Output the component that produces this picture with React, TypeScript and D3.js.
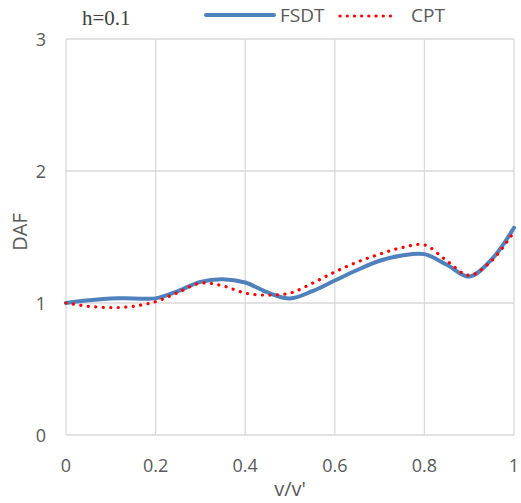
import React from "react";
import * as d3 from "d3";

const xValues = [0, 0.05, 0.1, 0.15, 0.2, 0.25, 0.3, 0.35, 0.4, 0.45, 0.5, 0.55, 0.6, 0.65, 0.7, 0.75, 0.8, 0.85, 0.9, 0.95, 1.0];
const fsdt = [1.0, 1.02, 1.035, 1.035, 1.035, 1.09, 1.16, 1.18, 1.155, 1.08, 1.035, 1.09, 1.17, 1.25, 1.32, 1.36, 1.37, 1.29, 1.2, 1.33, 1.57];
const cpt = [1.0, 0.975, 0.965, 0.975, 1.01, 1.08, 1.15, 1.13, 1.075, 1.06, 1.075, 1.15, 1.235, 1.31, 1.37, 1.42, 1.44, 1.32, 1.21, 1.32, 1.54];
const xTicks = [0, 0.2, 0.4, 0.6, 0.8, 1];
const yTicks = [0, 1, 2, 3];
const seriesNames = ["FSDT", "CPT"];
const annotation = "h=0.1";

const W = 521, H = 503;
const left = 66, right = 514, top = 39, bottom = 435;

export default function App() {
  const x = d3.scaleLinear().domain([0, 1]).range([left, right]);
  const y = d3.scaleLinear().domain([0, 3]).range([bottom, top]);
  const line = (vals: number[]) =>
    d3.line<number>()
      .x((_, i) => x(xValues[i]))
      .y((d) => y(d))
      .curve(d3.curveCatmullRom.alpha(0.5))(vals) || "";
  const tickFont = "'Open Sans', 'Noto Sans', sans-serif";
  return (
    <svg width={W} height={H} style={{ position: "absolute", left: 0, top: 0, background: "#fff" }}>
      {xTicks.map((t) => (
        <line key={"gx" + t} x1={x(t)} x2={x(t)} y1={top} y2={bottom} stroke="#d9d9d9" strokeWidth={1.3} />
      ))}
      {yTicks.map((t) => (
        <line key={"gy" + t} x1={left} x2={right} y1={y(t)} y2={y(t)} stroke="#d9d9d9" strokeWidth={1.3} />
      ))}
      {xTicks.map((t) => (
        <text key={"tx" + t} x={x(t)} y={472} textAnchor="middle" fontFamily={tickFont} fontSize={18} fill="#595959">{t}</text>
      ))}
      {yTicks.map((t) => (
        <text key={"ty" + t} x={46} y={y(t) + 7} textAnchor="end" fontFamily={tickFont} fontSize={18} fill="#595959">{t}</text>
      ))}
      <text x={(left + right) / 2} y={496} textAnchor="middle" fontFamily={tickFont} fontSize={20} fill="#595959">v/v'</text>
      <text transform={`translate(27,${(top + bottom) / 2 - 5}) rotate(-90)`} textAnchor="middle" fontFamily={tickFont} fontSize={20} fill="#595959">DAF</text>
      <path d={line(fsdt)} fill="none" stroke="#4f81bd" strokeWidth={4} strokeLinecap="round" />
      <path d={line(cpt)} fill="none" stroke="#ff0000" strokeWidth={3.2} strokeDasharray="0.1 7.4" strokeLinecap="round" />
      <text x={82} y={25} fontFamily="'Liberation Serif', serif" fontSize={21} fill="#404040">{annotation}</text>
      <line x1={206} x2={274} y1={15} y2={15} stroke="#4f81bd" strokeWidth={4} strokeLinecap="round" />
      <text x={280} y={22} fontFamily={tickFont} fontSize={19} fill="#595959">{seriesNames[0]}</text>
      <line x1={340} x2={397} y1={16} y2={16} stroke="#ff0000" strokeWidth={3.2} strokeDasharray="0.1 7.1" strokeLinecap="round" />
      <text x={411} y={22} fontFamily={tickFont} fontSize={19} fill="#595959">{seriesNames[1]}</text>
    </svg>
  );
}
